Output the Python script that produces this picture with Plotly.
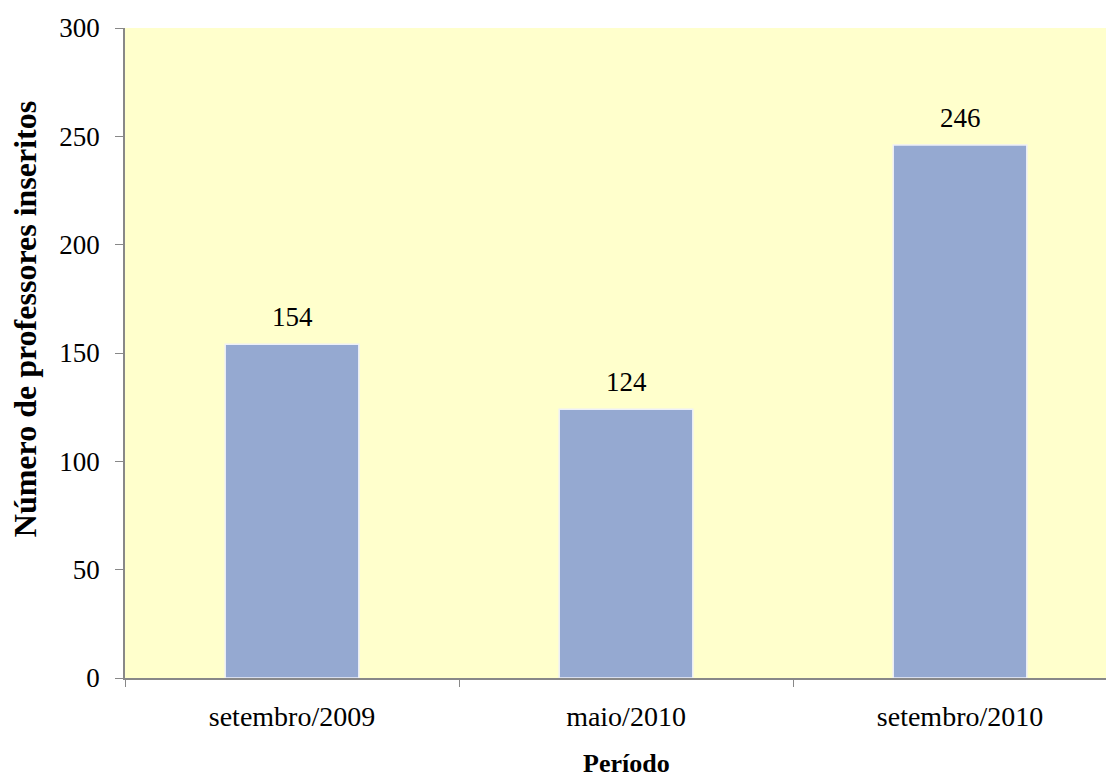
import plotly.graph_objects as go

categories = ["setembro/2009", "maio/2010", "setembro/2010"]
values = [154, 124, 246]
y_ticks = [0, 50, 100, 150, 200, 250, 300]

FONT = "Liberation Serif"

fig = go.Figure(go.Bar(
    x=categories, y=values, width=0.4,
    marker=dict(color="#95A9D1", line=dict(color="#EEF0F8", width=1.5)),
    hoverinfo="x+y",
))

annotations = []
for c, v in zip(categories, values):
    annotations.append(dict(
        x=c, y=v, xref="x", yref="y", text=str(v), showarrow=False,
        yanchor="bottom", yshift=10, font=dict(family=FONT, size=27, color="#000"),
    ))
annotations.append(dict(
    x=0, y=0.552, xref="paper", yref="paper", text="<b>Número de professores inseritos</b>",
    textangle=-90, showarrow=False, xanchor="center", yanchor="middle", xshift=-100,
    font=dict(family=FONT, size=32, color="#000"),
))
annotations.append(dict(
    x=categories[1], y=0, xref="x", yref="paper", text="<b>Período</b>",
    showarrow=False, xanchor="center", yanchor="middle", yshift=-85,
    font=dict(family=FONT, size=26, color="#000"),
))

fig.update_layout(
    width=1106, height=774,
    margin=dict(l=117, r=0, t=20, b=104),
    paper_bgcolor="white", plot_bgcolor="#FFFFCC",
    font=dict(family=FONT, size=27, color="#000"),
    showlegend=False,
    annotations=annotations,
)
fig.update_xaxes(
    type="category", range=[-0.5, 2.461], tickson="boundaries",
    ticks="outside", ticklen=7, tickcolor="#888", showline=True, linecolor="#888", linewidth=1.5,
    showgrid=False, tickfont=dict(size=28), ticklabelstandoff=13,
)
fig.update_yaxes(
    range=[0, 300], tickvals=y_ticks, ticks="outside", ticklen=8, tickcolor="#888",
    showline=True, linecolor="#888", linewidth=1.5, showgrid=False, zeroline=False,
    tickfont=dict(size=27), ticklabelstandoff=10,
)

fig.write_html("out.html")
